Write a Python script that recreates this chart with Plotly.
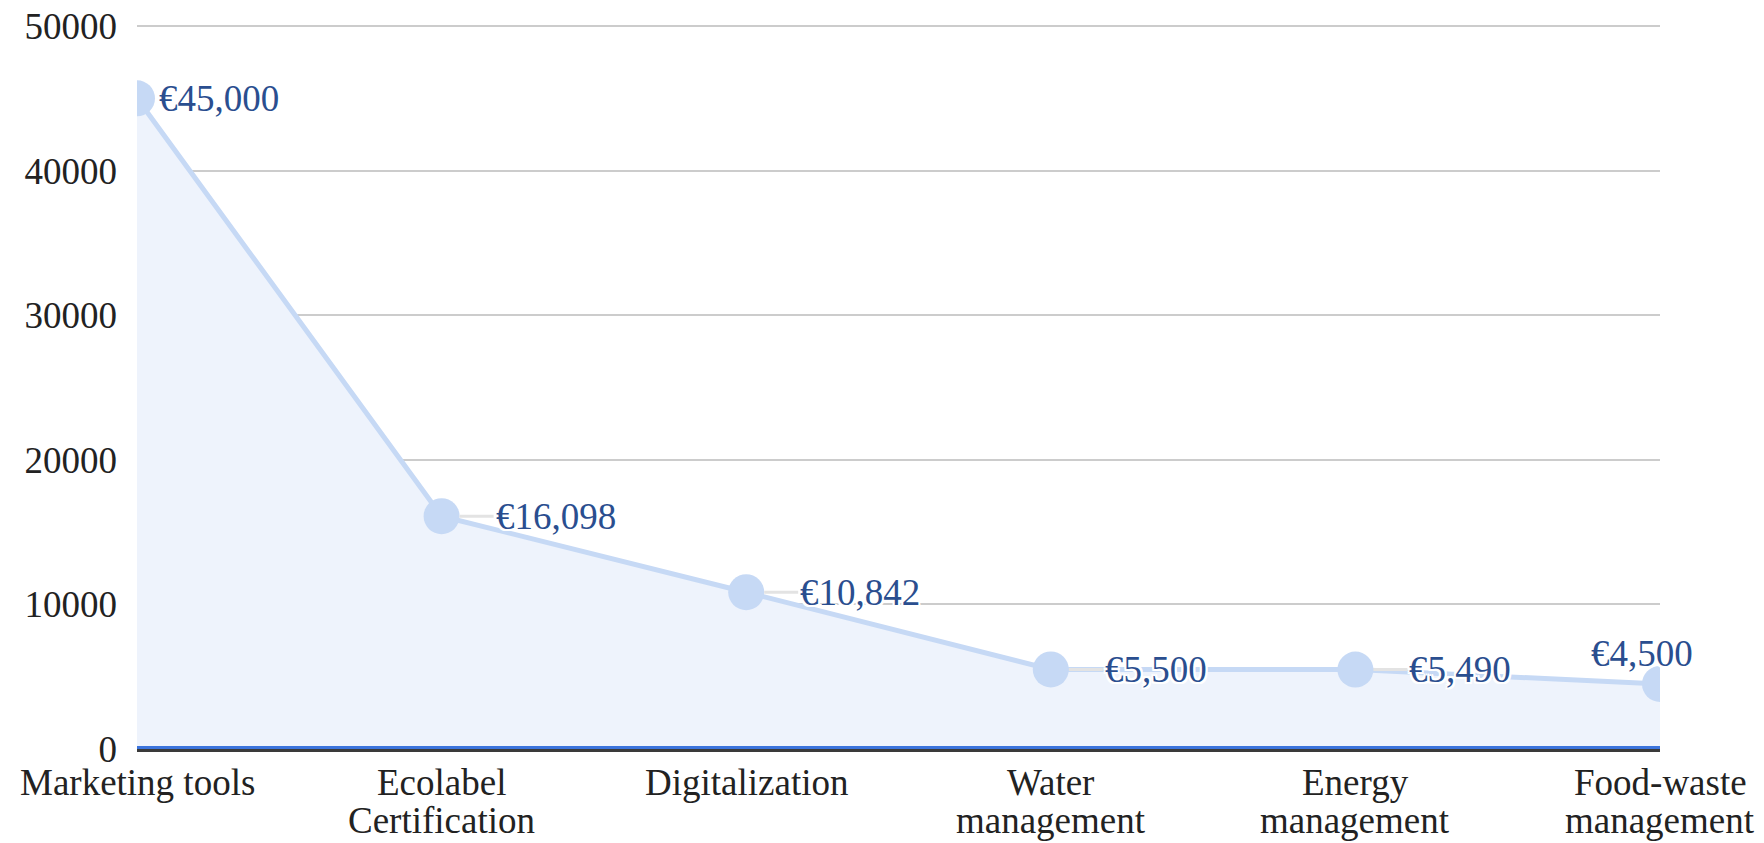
import plotly.graph_objects as go

categories = ["Marketing tools", "Ecolabel<br>Certification", "Digitalization",
              "Water<br>management", "Energy<br>management", "Food-waste<br>management"]
values = [45000, 16098, 10842, 5500, 5490, 4500]
y_ticks = [0, 10000, 20000, 30000, 40000, 50000]

labels = ["€{:,}".format(v) for v in values]

FONT = "Liberation Serif, Times New Roman, serif"
LINE_C = "#c6d9f5"
FILL_C = "#eef3fc"
LABEL_C = "#2a4e8f"
TEXT_C = "#222222"
FS = 37

fig = go.Figure()
fig.add_trace(go.Scatter(
    x=categories, y=values, mode="lines+markers",
    line=dict(color=LINE_C, width=5),
    marker=dict(color=LINE_C, size=36),
    fill="tozeroy", fillcolor=FILL_C,
    hoverinfo="skip", showlegend=False,
))

halo = ("2px 0 0 #fff, -2px 0 0 #fff, 0 2px 0 #fff, 0 -2px 0 #fff, "
        "2px 2px 0 #fff, -2px -2px 0 #fff, 2px -2px 0 #fff, -2px 2px 0 #fff")

n = len(values)
# value labels
for i, (c, v, t) in enumerate(zip(categories, values, labels)):
    font = dict(family=FONT, size=FS, color=LABEL_C, shadow=halo)
    if i == 0:
        fig.add_annotation(x=c, y=v, text=t, showarrow=False, xanchor="left",
                           xshift=20, font=font)
    elif i == n - 1:
        fig.add_annotation(x=c, y=v, text=t, showarrow=False, xanchor="center",
                           yanchor="bottom", xshift=-18, yshift=8, font=font)
    else:
        fig.add_annotation(x=c, y=v, text=t, showarrow=True, ax=52, ay=0,
                           xanchor="left", arrowhead=0, standoff=18,
                           arrowcolor="#e3e3e3", arrowwidth=3, font=font)

# category labels (tight line spacing like the reference)
for c in categories:
    for j, line in enumerate(c.split("<br>")):
        fig.add_annotation(x=c, y=0, yref="paper", text=line, showarrow=False,
                           xanchor="center", yanchor="top", yshift=-11 - 38 * j,
                           font=dict(family=FONT, size=FS, color=TEXT_C))

# blue baseline drawn above the area fill
fig.add_shape(type="line", xref="paper", x0=0, x1=1, yref="y",
              ysizemode="pixel", yanchor=0, y0=1.5, y1=1.5,
              line=dict(color="#3b73dc", width=3), layer="above")

fig.update_layout(
    width=1748, height=835,
    margin=dict(l=129, r=96, t=17, b=94, autoexpand=False),
    paper_bgcolor="white", plot_bgcolor="white",
    font=dict(family=FONT, size=FS, color=TEXT_C),
)
fig.update_xaxes(
    type="category", range=[0, n - 1], showgrid=False,
    showline=True, linecolor="#3a3a3a", linewidth=3,
    showticklabels=False, ticks="", automargin=False,
)
fig.update_yaxes(
    range=[0, 50070], tickvals=y_ticks, ticktext=[str(v) for v in y_ticks],
    showgrid=True, gridcolor="#cccccc", gridwidth=2, zeroline=False,
    tickfont=dict(family=FONT, size=FS, color=TEXT_C),
    ticks="", ticklabelstandoff=19, automargin=False,
    ticklabeloverflow="allow",
)

fig.write_html("out.html")
